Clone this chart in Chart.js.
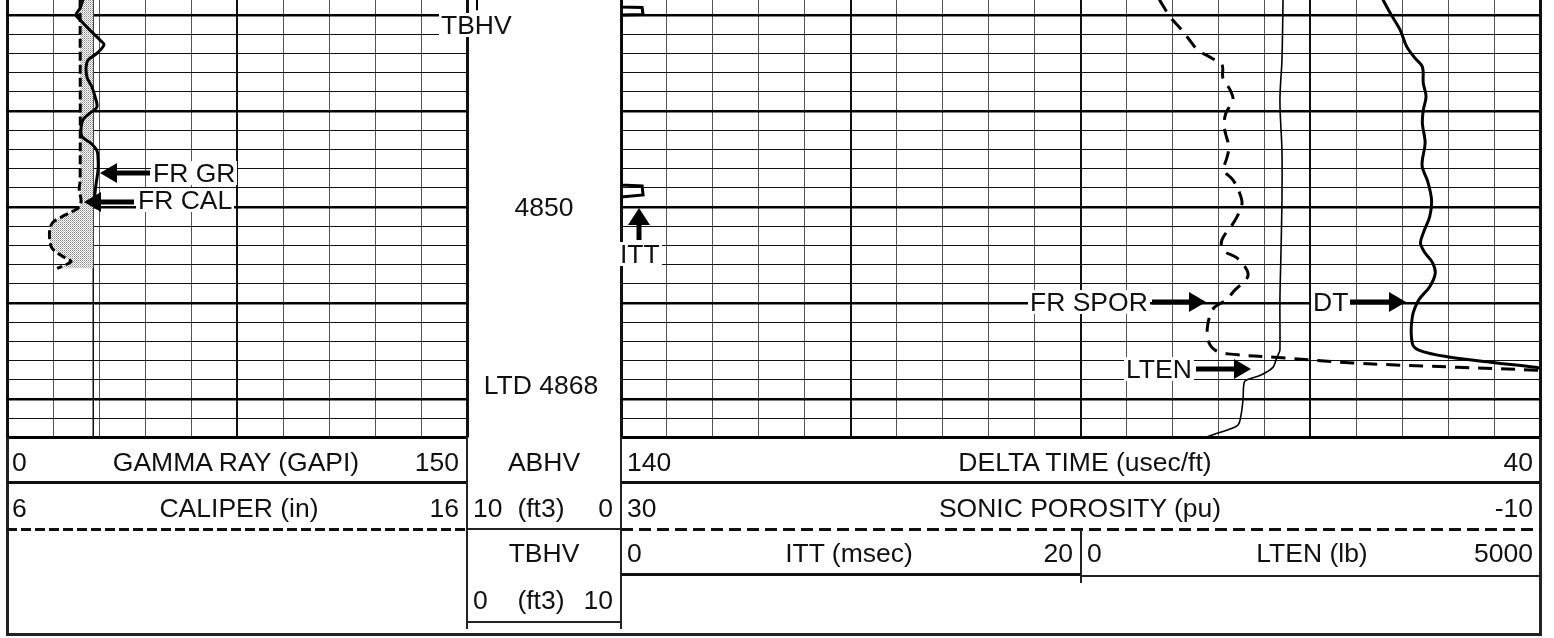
<!DOCTYPE html>
<html>
<head>
<meta charset="utf-8">
<script src="https://cdn.jsdelivr.net/npm/chart.js@4.4.1/dist/chart.umd.min.js"></script>
<style>
  body { margin: 0; width: 1554px; height: 638px; background: #fff; position: relative; overflow: hidden;
         font-family: "Liberation Sans", Arial, sans-serif; color: #111; }
  canvas, .box, .t, svg { position: absolute; }
  .t { font-size: 26.5px; line-height: 30px; height: 30px; white-space: nowrap; }
  .t.bg { background: #fff; line-height: 24px; height: 24px; padding: 0 2px; }
  .dash { background: repeating-linear-gradient(90deg, #111 0 10px, transparent 10px 14px); }
  .dash2 { background: repeating-linear-gradient(90deg, #111 0 12px, transparent 12px 18px); }
</style>
</head>
<body>
<canvas id="leftTrack" width="470" height="442" style="left:2px;top:0"></canvas>
<canvas id="depthTrack" width="164" height="442" style="left:462px;top:0"></canvas>
<canvas id="rightTrack" width="929" height="442" style="left:616px;top:0"></canvas>

<!-- header boxes -->
<div class="box" style="left:6px;top:437px;width:1536px;height:199px;border:3px solid #222;border-top:none;box-sizing:border-box"></div>
<div class="box" style="left:7px;top:481px;width:460px;height:3px;background:#111"></div>
<div class="box dash" style="left:7px;top:528px;width:460px;height:3px"></div>
<div class="box" style="left:466px;top:437px;width:2px;height:192px;background:#222"></div>
<div class="box" style="left:620px;top:437px;width:2px;height:192px;background:#222"></div>
<div class="box" style="left:467px;top:528px;width:154px;height:2px;background:#222"></div>
<div class="box" style="left:467px;top:621px;width:154px;height:2px;background:#222"></div>
<div class="box" style="left:621px;top:481px;width:919px;height:3px;background:#111"></div>
<div class="box dash2" style="left:621px;top:528px;width:919px;height:3px"></div>
<div class="box" style="left:1080px;top:530px;width:2px;height:53px;background:#222"></div>
<div class="box" style="left:621px;top:573px;width:460px;height:3px;background:#111"></div>
<div class="box" style="left:1081px;top:575px;width:459px;height:2px;background:#222"></div>

<div id="labels"></div>
<svg id="arrows" width="1554" height="638" style="left:0;top:0"></svg>

<script>
// visible depth window (ft)
const DEPTH_TOP = 4828.44;
const DEPTH_BOTTOM = 4874;
const depthTicks = [];
for (let d = 4830; d <= DEPTH_BOTTOM; d += 2) depthTicks.push(d);

// GAMMA RAY (GAPI)
const grDepth = [4828.4, 4829.3, 4830.0, 4830.5, 4831.6, 4832.6, 4833.1, 4834.0, 4834.7, 4835.4,
  4836.5, 4837.5, 4838.5, 4839.6, 4840.2, 4840.9, 4842.0, 4842.7, 4843.3, 4844.1,
  4845.1, 4846.1, 4847.7, 4849.3, 4849.9];
const grValue = [24.8, 23.8, 22.5, 23.8, 27.1, 30.3, 31.6, 29.3, 26.4, 25.8,
  26.1, 27.7, 28.7, 29.3, 27.1, 24.8, 24.1, 24.5, 27.1, 29.3,
  29.7, 29.7, 29.0, 28.4, 28.0];

// CALIPER (in)
const calDepth = [4828.4, 4847.2, 4848.2, 4849.3, 4850.0, 4850.5, 4851.0, 4851.6, 4852.4, 4853.4,
  4854.3, 4854.9, 4855.4, 4855.7, 4856.4];
const calValue = [7.59, 7.59, 7.57, 7.61, 7.57, 7.41, 7.20, 7.00, 6.93, 6.93,
  6.98, 7.13, 7.30, 7.39, 7.09];
const BIT_SIZE = 7.875;

// TBHV (ft3)
const tbhvDepth = [4828.44, 4829.5];
const tbhvValue = [0.65, 0.65];

// DELTA TIME (usec/ft)
const dtDepth = [4828.4, 4829.8, 4831.6, 4833.3, 4834.5, 4835.4, 4837.1, 4838.5, 4839.9, 4841.3,
  4843.3, 4845.1, 4845.9, 4847.4, 4849.3, 4851.0, 4852.7, 4853.8, 4854.8, 4855.8,
  4856.9, 4858.3, 4859.7, 4861.5, 4864.2, 4864.9, 4865.6, 4866.2, 4866.7, 4866.9];
const dtValue = [57.1, 56.3, 55.2, 54.5, 53.6, 52.8, 52.7, 52.4, 52.7, 52.8,
  52.5, 52.8, 52.8, 52.2, 51.8, 52.0, 52.7, 53.0, 52.5, 51.7,
  51.4, 52.0, 53.2, 53.9, 53.9, 53.2, 50.1, 45.1, 40.5, 39.5];

// SONIC POROSITY (pu)
const sporDepth = [4828.4, 4830.2, 4831.35, 4832.4, 4833.65, 4834.5, 4835.2, 4836.6, 4837.8, 4838.85,
  4840.2, 4841.5, 4842.5, 4843.75, 4844.8, 4846.15, 4847.2, 4848.4, 4849.6, 4850.8,
  4851.9, 4853.4, 4854.5, 4855.3, 4856.6, 4857.4, 4858.65, 4859.7, 4860.5, 4862.1,
  4863.85, 4864.9, 4865.3, 4865.7, 4866.25, 4866.7, 4867.0, 4867.05];
const sporValue = [6.57, 6.10, 5.67, 5.32, 4.89, 4.28, 3.84, 3.80, 3.49, 3.36,
  3.67, 3.75, 3.67, 3.54, 3.62, 3.75, 3.36, 3.10, 2.97, 3.14,
  3.41, 3.84, 3.80, 3.19, 2.75, 2.75, 3.28, 3.67, 4.19, 4.45,
  4.45, 4.15, 3.58, 1.23, -1.86, -6.43, -9.87, -10.1];

// LTEN (lb)
const ltenDepth = [4828.4, 4834.7, 4838.9, 4844.1, 4849.3, 4854.5, 4859.7, 4864.9, 4865.2, 4865.9,
  4866.7, 4867.5, 4868.0, 4868.3, 4870.1, 4871.7, 4872.7, 4873.2, 4873.65, 4874.0];
const ltenValue = [3602, 3596, 3585, 3596, 3596, 3591, 3585, 3585, 3580, 3564,
  3547, 3482, 3406, 3390, 3384, 3373, 3357, 3303, 3232, 3178];

// ITT (msec)
const ittDepth = [4828.44, 4829.17, 4829.22, 4829.95, 4830.0, 4847.71, 4847.81, 4848.75, 4848.96, 4849.9];
const ittValue = [0, 0, 0.46, 0.48, 0, 0, 0.46, 0.48, 0, 0];

const pts = (depth, val) => depth.map((d, i) => ({ x: val[i], y: d }));

const stipple = (() => {
  const c = document.createElement('canvas');
  c.width = 2; c.height = 2;
  const g = c.getContext('2d');
  g.fillStyle = '#fff'; g.fillRect(0, 0, 2, 2);
  g.fillStyle = '#888'; g.fillRect(0, 0, 1, 1);
  g.fillStyle = '#bbb'; g.fillRect(1, 1, 1, 1);
  return g.createPattern(c, 'repeat');
})();

function depthAxis(showGrid) {
  return {
    type: 'linear', axis: 'y', position: 'left', reverse: true,
    min: DEPTH_TOP, max: DEPTH_BOTTOM,
    afterBuildTicks: s => { s.ticks = depthTicks.map(v => ({ value: v })); },
    ticks: { display: false },
    border: { display: false },
    grid: {
      display: showGrid, drawTicks: false,
      lineWidth: c => c.tick.value === DEPTH_BOTTOM ? 3 : (c.tick.value % 10 === 0 ? 2.5 : 1),
      color: c => c.tick.value % 10 === 0 || c.tick.value === DEPTH_BOTTOM ? '#000' : '#111'
    }
  };
}

function hiddenAxis(min, max, reverse) {
  return { type: 'linear', axis: 'x', position: 'top', display: false, min, max, reverse: !!reverse };
}

function gridAxis(min, max, reverse, step, isMajor) {
  return {
    type: 'linear', axis: 'x', position: 'top', min, max, reverse,
    ticks: { display: false, stepSize: step },
    border: { display: false },
    grid: {
      drawTicks: false,
      lineWidth: c => (c.tick.value === min || c.tick.value === max) ? 3 : (isMajor(c.tick.value) ? 2 : 1),
      color: c => (c.tick.value === min || c.tick.value === max || isMajor(c.tick.value)) ? '#111' : '#555'
    }
  };
}

function baseOptions(scales) {
  return {
    responsive: false, animation: false, indexAxis: 'y', events: [],
    layout: { padding: { left: 5, right: 5, top: 0, bottom: 4.6 } },
    plugins: { legend: { display: false }, tooltip: { enabled: false } },
    elements: { point: { radius: 0 }, line: { tension: 0.35 } },
    scales
  };
}

new Chart(document.getElementById('leftTrack'), {
  type: 'line',
  data: {
    datasets: [
      { data: pts(grDepth, grValue), xAxisID: 'gr', yAxisID: 'y', borderColor: '#000', borderWidth: 3, fill: false },
      { data: pts(calDepth, calValue), xAxisID: 'cal', yAxisID: 'y', borderColor: '#000', borderWidth: 3,
        borderDash: [9, 4], fill: { value: BIT_SIZE }, backgroundColor: stipple },
      { data: pts([DEPTH_TOP, DEPTH_BOTTOM], [BIT_SIZE, BIT_SIZE]), xAxisID: 'cal', yAxisID: 'y',
        borderColor: '#111', borderWidth: 1.5, tension: 0, fill: false }
    ]
  },
  options: baseOptions({
    gr: gridAxis(0, 150, false, 15, v => Math.round(v) === 75),
    cal: hiddenAxis(6, 16),
    y: depthAxis(true)
  })
});

new Chart(document.getElementById('depthTrack'), {
  type: 'line',
  data: {
    datasets: [
      { data: pts(tbhvDepth, tbhvValue), xAxisID: 'tbhv', yAxisID: 'y', borderColor: '#000', borderWidth: 2, tension: 0, fill: false }
    ]
  },
  options: baseOptions({
    tbhv: hiddenAxis(0, 10),
    y: depthAxis(false)
  })
});

new Chart(document.getElementById('rightTrack'), {
  type: 'line',
  data: {
    datasets: [
      { data: pts(dtDepth, dtValue), xAxisID: 'dt', yAxisID: 'y', borderColor: '#000', borderWidth: 3, fill: false },
      { data: pts(sporDepth, sporValue), xAxisID: 'spor', yAxisID: 'y', borderColor: '#000', borderWidth: 3,
        borderDash: [14, 9], fill: false },
      { data: pts(ltenDepth, ltenValue), xAxisID: 'lten', yAxisID: 'y', borderColor: '#000', borderWidth: 1.6, fill: false },
      { data: pts(ittDepth, ittValue), xAxisID: 'itt', yAxisID: 'y', borderColor: '#000', borderWidth: 3, tension: 0, fill: false }
    ]
  },
  options: baseOptions({
    dt: gridAxis(40, 140, true, 5, v => Math.round(140 - v) % 25 === 0),
    spor: hiddenAxis(-10, 30, true),
    lten: hiddenAxis(0, 5000),
    itt: hiddenAxis(0, 20),
    y: depthAxis(true)
  })
});

// text: [text, x, centre y, align, white background]
const texts = [
  ['TBHV', 439, 25, 'left', true],
  ['FR GR', 151, 173, 'left', true],
  ['FR CAL', 136, 200, 'left', true],
  ['ITT', 618, 254, 'left', true],
  ['FR SPOR', 1028, 302, 'left', true],
  ['DT', 1311, 302, 'left', true],
  ['LTEN', 1124, 369, 'left', true],
  ['4850', 544, 207, 'center'],
  ['LTD 4868', 541, 385, 'center'],
  ['0', 12, 462, 'left'], ['GAMMA RAY (GAPI)', 236, 462, 'center'], ['150', 459, 462, 'right'],
  ['ABHV', 544, 462, 'center'],
  ['140', 627, 462, 'left'], ['DELTA TIME (usec/ft)', 1085, 462, 'center'], ['40', 1533, 462, 'right'],
  ['6', 12, 508, 'left'], ['CALIPER (in)', 239, 508, 'center'], ['16', 459, 508, 'right'],
  ['10', 473, 508, 'left'], ['(ft3)', 541, 508, 'center'], ['0', 613, 508, 'right'],
  ['30', 627, 508, 'left'], ['SONIC POROSITY (pu)', 1080, 508, 'center'], ['-10', 1533, 508, 'right'],
  ['TBHV', 544, 553, 'center'],
  ['0', 627, 553, 'left'], ['ITT (msec)', 849, 553, 'center'], ['20', 1073, 553, 'right'],
  ['0', 1087, 553, 'left'], ['LTEN (lb)', 1312, 553, 'center'], ['5000', 1533, 553, 'right'],
  ['0', 473, 600, 'left'], ['(ft3)', 541, 600, 'center'], ['10', 613, 600, 'right']
];
const labelsEl = document.getElementById('labels');
texts.forEach(([s, x, y, align, bg]) => {
  const el = document.createElement('div');
  el.className = 't' + (bg ? ' bg' : '');
  el.textContent = s;
  el.style.top = (y - (bg ? 12 : 15)) + 'px';
  if (align === 'left') el.style.left = x + 'px';
  else if (align === 'right') el.style.right = (1554 - x) + 'px';
  else { el.style.left = (x - 200) + 'px'; el.style.width = '400px'; el.style.textAlign = 'center'; }
  labelsEl.appendChild(el);
});

// arrows: tip x, tip y, tail coordinate, direction
const arrows = [
  [100, 173, 150, 'left'],
  [84, 202, 134, 'left'],
  [639, 208, 240, 'up'],
  [1206, 302, 1152, 'right'],
  [1406, 302, 1350, 'right'],
  [1251, 369, 1196, 'right']
];
let svg = '';
arrows.forEach(([x, y, t, dir]) => {
  const L = 17, H = 10;
  if (dir === 'left') {
    svg += `<rect x="${x + L - 1}" y="${y - 2.5}" width="${t - x - L + 1}" height="5" fill="#000"/>`;
    svg += `<polygon points="${x},${y} ${x + L},${y - H} ${x + L},${y + H}" fill="#000"/>`;
  } else if (dir === 'right') {
    svg += `<rect x="${t}" y="${y - 2.5}" width="${x - L - t + 1}" height="5" fill="#000"/>`;
    svg += `<polygon points="${x},${y} ${x - L},${y - H} ${x - L},${y + H}" fill="#000"/>`;
  } else {
    svg += `<rect x="${x - 2.5}" y="${y + L - 1}" width="5" height="${t - y - L + 1}" fill="#000"/>`;
    svg += `<polygon points="${x},${y} ${x - 11},${y + L} ${x + 11},${y + L}" fill="#000"/>`;
  }
});
document.getElementById('arrows').innerHTML = svg;
</script>
</body>
</html>
